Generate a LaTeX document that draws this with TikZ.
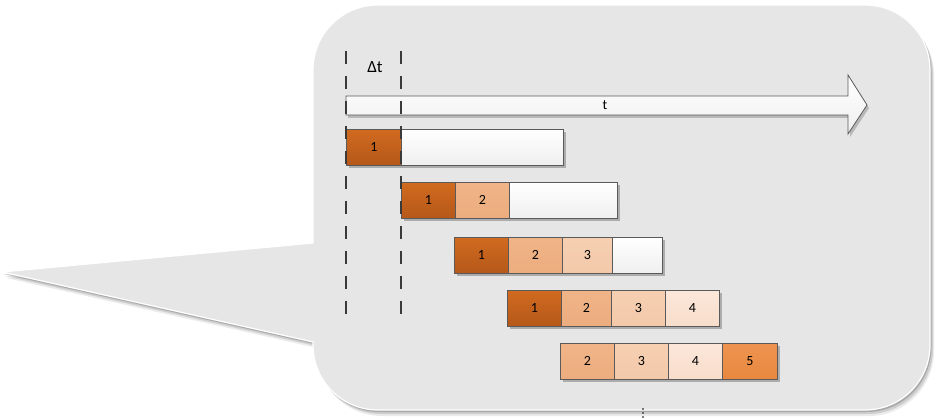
\documentclass[tikz,border=0pt]{standalone}
\usepackage{fontspec}
\setmainfont{Carlito}
\usetikzlibrary{shadows}
\definecolor{bg}{HTML}{E6E6E6}
\definecolor{edge}{HTML}{5A5A5A}
\definecolor{dash}{HTML}{3A3A3A}
\definecolor{cAa}{HTML}{D06A1F}\definecolor{cAb}{HTML}{B5581A}
\definecolor{cBa}{HTML}{F0B488}\definecolor{cBb}{HTML}{ECAD7E}
\definecolor{cCa}{HTML}{F6CFB2}\definecolor{cCb}{HTML}{F3C9A9}
\definecolor{cDa}{HTML}{FBE7DA}\definecolor{cDb}{HTML}{F8DDCA}
\definecolor{cEa}{HTML}{EE9450}\definecolor{cEb}{HTML}{E8883E}
\definecolor{cWa}{HTML}{FFFFFF}\definecolor{cWb}{HTML}{EFEFEF}
\newcommand\calloutshape[1]{\path[#1] (2,272) -- (313,243) -- (313,70)
  .. controls (313,34) and (342,5) .. (378,5) -- (865,5)
  .. controls (901,5) and (930,34) .. (930,70) -- (930,345)
  .. controls (930,381) and (901,410) .. (865,410) -- (378,410)
  .. controls (342,410) and (313,381) .. (313,345) -- (313,342) -- cycle;}
\begin{document}
\begin{tikzpicture}[x=1pt,y=-1pt,
  cell/.style={draw=edge, line width=0.8pt, minimum height=36pt, inner sep=0pt,
    anchor=north west, font=\fontsize{14}{14}\selectfont,
    drop shadow={shadow xshift=2.5pt, shadow yshift=-3pt, opacity=0.25, fill=black}},
  cA/.style={cell, top color=cAa, bottom color=cAb},
  cB/.style={cell, top color=cBa, bottom color=cBb},
  cC/.style={cell, top color=cCa, bottom color=cCb},
  cD/.style={cell, top color=cDa, bottom color=cDb},
  cE/.style={cell, top color=cEa, bottom color=cEb},
  cW/.style={cell, top color=cWa, bottom color=cWb},
  guide/.style={draw=dash, line width=1.5pt, dash pattern=on 13pt off 12pt},
  lbl/.style={inner sep=0pt}]
\useasboundingbox (0,0) rectangle (936,419);
% callout
\calloutshape{fill=black, opacity=0.08, shift={(4,6)}}
\calloutshape{fill=black, opacity=0.12, shift={(3,4)}}
\calloutshape{fill=black, opacity=0.18, shift={(1.5,2)}}
\calloutshape{fill=bg, draw=white, line width=1.2pt}
% time arrow
\path[fill=black, opacity=0.2, shift={(2,3)}] (346,96) -- (848,96) -- (848,75) -- (867,105) -- (848,134) -- (848,115) -- (346,115) -- cycle;
\path[draw=edge, line width=0.8pt, top color=white, bottom color=cWb] (346,96) -- (848,96) -- (848,75) -- (867,105) -- (848,134) -- (848,115) -- (346,115) -- cycle;
\node[lbl, font=\fontsize{14}{14}\selectfont] (tl) at (605,105) {t};
% row 1
\node[cA, minimum width=55pt] (r1a) at (346,129) {1};
\node[cW, minimum width=162pt] (r1w) at (401,129) {};
% row 2
\node[cA, minimum width=54pt] (r2a) at (401,182) {1};
\node[cB, minimum width=54pt] (r2b) at (455,182) {2};
\node[cW, minimum width=108pt] (r2w) at (509,182) {};
% row 3
\node[cA, minimum width=54pt] (r3a) at (454,237) {1};
\node[cB, minimum width=54pt] (r3b) at (508,237) {2};
\node[cC, minimum width=50pt] (r3c) at (562,237) {3};
\node[cW, minimum width=50pt] (r3w) at (612,237) {};
% row 4
\node[cA, minimum width=54pt] (r4a) at (507,290) {1};
\node[cB, minimum width=50pt] (r4b) at (561,290) {2};
\node[cC, minimum width=54pt] (r4c) at (611,290) {3};
\node[cD, minimum width=54pt] (r4d) at (665,290) {4};
% row 5
\node[cB, minimum width=54pt] (r5b) at (560,343) {2};
\node[cC, minimum width=54pt] (r5c) at (614,343) {3};
\node[cD, minimum width=54pt] (r5d) at (668,343) {4};
\node[cE, minimum width=55pt] (r5e) at (722,343) {5};
% guides
\coordinate (g1t) at (346,51); \coordinate (g1b) at (346,325);
\coordinate (g2t) at (401,51); \coordinate (g2b) at (401,325);
\draw[guide] (g1t) -- (g1b);
\draw[guide] (g2t) -- (g2b);
\node[lbl, font=\fontsize{17}{17}\selectfont] (dt) at (375,67) {Δt};
% dots
\foreach \yy in {409,413,417} \fill[black] (643,\yy) circle (0.9pt);
\end{tikzpicture}
\end{document}
